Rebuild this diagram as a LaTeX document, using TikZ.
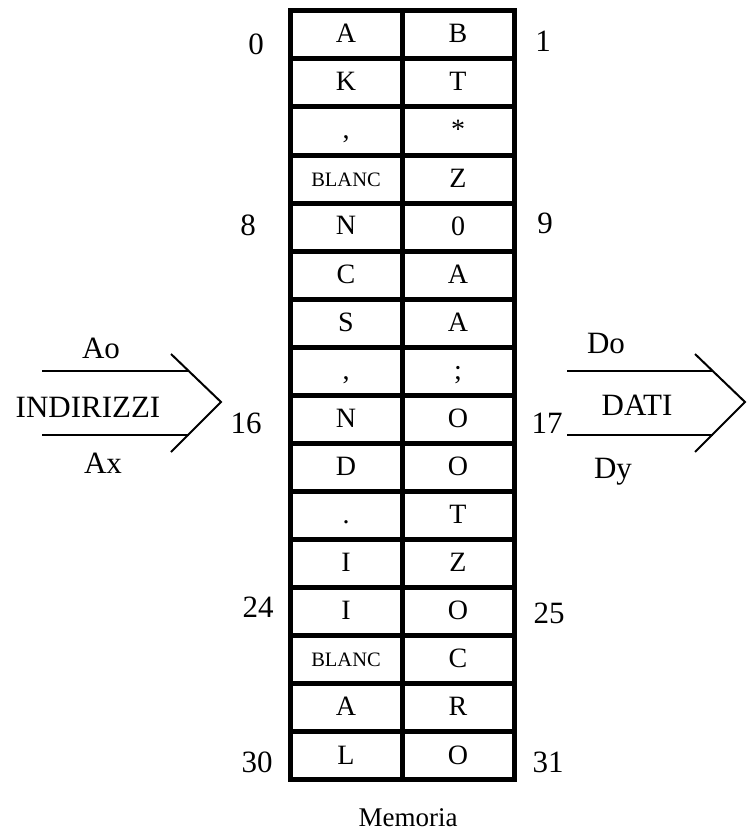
\documentclass[tikz,border=0pt]{standalone}
\usepackage{fontspec}
\setmainfont{Liberation Serif}
\begin{document}
\begin{tikzpicture}[x=1pt,y=-1pt,
  cell/.style={font=\fontsize{28}{28}\selectfont, anchor=base, inner sep=0pt},
  blanc/.style={font=\fontsize{20.5}{20.5}\selectfont, anchor=base, inner sep=0pt},
  addr/.style={font=\fontsize{31}{31}\selectfont, anchor=base, inner sep=0pt},
  lbl/.style={font=\fontsize{31}{31}\selectfont, anchor=base, inner sep=0pt},
  caption/.style={font=\fontsize{27}{27}\selectfont, anchor=base, inner sep=0pt},
  grid/.style={line width=5pt},
  bus/.style={line width=2pt}]
\useasboundingbox (0,0) rectangle (751,832);

% memory grid: 16 rows x 2 columns
\draw[grid] (290,11) rectangle (514,779);
\draw[grid] (402.5,11) -- (402.5,779);
\foreach \r in {1,...,15} {
  \draw[grid] (290,11+48*\r) -- (514,11+48*\r);
}

% left column contents (even addresses)
\node[cell]  (c0)  at (346,43)  {A};
\node[cell]  (c2)  at (346,91)  {K};
\node[cell]  (c4)  at (346,139) {,};
\node[blanc] (c6)  at (346,186) {BLANC};
\node[cell]  (c8)  at (346,234) {N};
\node[cell]  (c10) at (346,283) {C};
\node[cell]  (c12) at (346,331) {S};
\node[cell]  (c14) at (346,379) {,};
\node[cell]  (c16) at (346,427) {N};
\node[cell]  (c18) at (346,475) {D};
\node[cell]  (c20) at (346,523) {.};
\node[cell]  (c22) at (346,571) {I};
\node[cell]  (c24) at (346,619) {I};
\node[blanc] (c26) at (346,666) {BLANC};
\node[cell]  (c28) at (346,715) {A};
\node[cell]  (c30) at (346,764) {L};

% right column contents (odd addresses)
\node[cell] (c1)  at (458,43)  {B};
\node[cell] (c3)  at (458,91)  {T};
\node[cell] (c5)  at (458,139) {*};
\node[cell] (c7)  at (458,187) {Z};
\node[cell] (c9)  at (458,235) {0};
\node[cell] (c11) at (458,283) {A};
\node[cell] (c13) at (458,331) {A};
\node[cell] (c15) at (458,379) {;};
\node[cell] (c17) at (458,427) {O};
\node[cell] (c19) at (458,475) {O};
\node[cell] (c21) at (458,523) {T};
\node[cell] (c23) at (458,571) {Z};
\node[cell] (c25) at (458,619) {O};
\node[cell] (c27) at (458,667) {C};
\node[cell] (c29) at (458,715) {R};
\node[cell] (c31) at (458,764) {O};

% address labels
\node[addr] (n0)  at (256,55)  {0};
\node[addr] (n1)  at (543,52)  {1};
\node[addr] (n8)  at (248,235) {8};
\node[addr] (n9)  at (545,233) {9};
\node[addr] (n16) at (246,433) {16};
\node[addr] (n17) at (547,433) {17};
\node[addr] (n24) at (258,617) {24};
\node[addr] (n25) at (549,623) {25};
\node[addr] (n30) at (257,772) {30};
\node[addr] (n31) at (548,772) {31};

% address bus (input)
\coordinate (ia1) at (42,371);
\coordinate (ia2) at (189,371);
\coordinate (ib1) at (42,435);
\coordinate (ib2) at (189,435);
\coordinate (it) at (171,354);
\coordinate (ip) at (221,402);
\coordinate (ib) at (171,452);
\draw[bus] (ia1) -- (ia2);
\draw[bus] (ib1) -- (ib2);
\draw[bus] (it) -- (ip) -- (ib);
\node[lbl] (ao)  at (101,358) {Ao};
\node[lbl] (ind) at (88,417)  {INDIRIZZI};
\node[lbl] (ax)  at (103,473) {Ax};

% data bus (output)
\coordinate (oa1) at (567,371);
\coordinate (oa2) at (713,371);
\coordinate (ob1) at (567,435);
\coordinate (ob2) at (713,435);
\coordinate (ot) at (695,354);
\coordinate (op) at (745,402);
\coordinate (ob) at (695,452);
\draw[bus] (oa1) -- (oa2);
\draw[bus] (ob1) -- (ob2);
\draw[bus] (ot) -- (op) -- (ob);
\node[lbl] (do)   at (606,353) {Do};
\node[lbl] (dati) at (637,415) {DATI};
\node[lbl] (dy)   at (613,478) {Dy};

% caption
\node[caption] (mem) at (408,826) {Memoria};
\end{tikzpicture}
\end{document}
